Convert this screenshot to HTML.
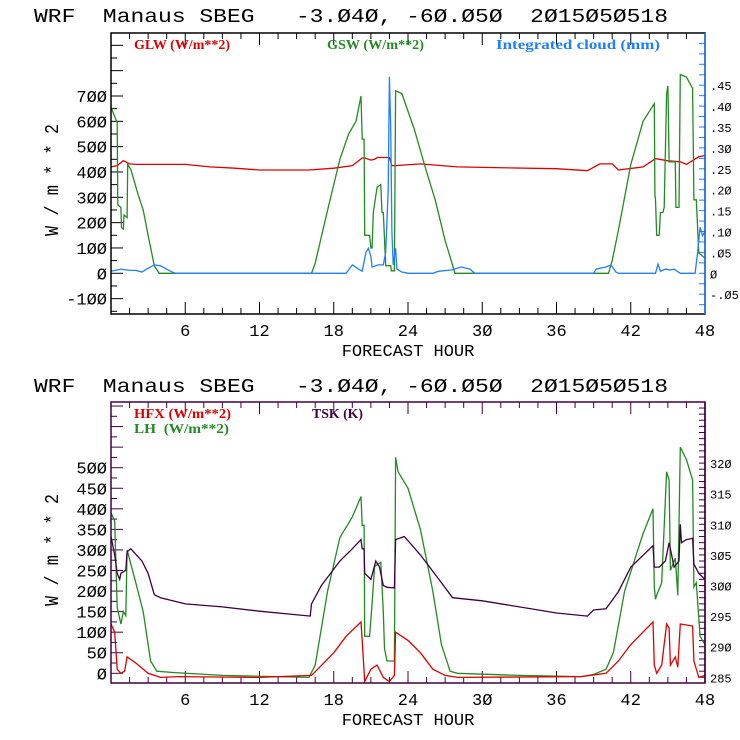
<!DOCTYPE html>
<html><head><meta charset="utf-8"><style>
html,body{margin:0;padding:0;background:#fff;width:740px;height:740px;overflow:hidden}
svg{display:block}
text{font-family:"Liberation Mono",monospace;white-space:pre}
.lg{font-family:"Liberation Serif",serif;font-size:14px;font-weight:bold}
</style></head><body>
<svg id="chart" width="740" height="740" viewBox="0 0 740 740" xml:space="preserve"></svg>
<script>
// ---- data: panel 1 ----
const hourTicks = [6,12,18,24,30,36,42,48];
const topLeftTicks = [-100,0,100,200,300,400,500,600,700];
const topRightTicks = [-0.05,0,0.05,0.10,0.15,0.20,0.25,0.30,0.35,0.40,0.45];
const topRightLabels = ['-.05','0','.05','.10','.15','.20','.25','.30','.35','.40','.45'];
const glwHours = [0,0.5,1,1.5,2,6,8,10,12,16,18,19.5,20.3,20.5,21,21.3,21.5,22.5,22.7,23,25,28,30,36,38.5,39.5,40.5,41,43,44,45,46,46.5,47.5,48];
const glwValues = [420,425,445,432,430,430,420,415,408,408,415,425,455,455,447,450,457,457,425,425,432,420,418,413,405,432,432,408,420,453,444,440,430,460,465];
const gswHours = [0,0.5,0.55,0.8,0.85,1.0,1.05,1.3,1.35,1.6,2.2,2.6,3.0,3.5,3.9,16.2,16.5,17.5,18.5,19.2,19.8,20.2,20.3,20.45,20.5,20.9,21.0,21.1,21.2,21.5,21.8,21.9,22.0,22.2,22.6,22.65,22.9,23.0,23.5,24.5,25.5,26.2,27.0,27.8,40.2,40.5,41,42,43,43.9,43.95,44.0,44.1,44.3,44.4,44.6,44.7,44.9,45.0,45.1,45.6,45.65,45.9,46.0,46.5,47.0,47.1,47.3,47.5,48];
const gswValues = [655,595,270,260,180,175,230,220,430,410,310,250,150,30,0,0,40,250,450,550,600,700,530,530,150,150,100,100,240,340,350,240,240,30,30,10,10,720,710,570,400,290,130,0,0,50,170,430,600,670,310,290,150,150,240,240,260,710,740,440,440,260,260,785,775,730,290,290,80,60];
const cldHours = [0,0.8,1.5,2.0,2.5,3.0,3.5,4.0,4.8,5.2,19.0,19.5,20.0,20.3,20.6,20.8,21.0,21.1,21.6,22.0,22.2,22.4,22.5,22.6,22.7,22.8,23.0,23.1,23.5,24,26,26.5,27.5,28.3,29.0,29.4,39.0,39.2,40.0,40.4,40.8,41,44.0,44.2,44.4,44.8,45.2,45.5,46.0,47.2,47.4,47.6,47.8,48];
const cldValues = [0.005,0.01,0.007,0.007,0.003,0.012,0.02,0.018,0.005,0,0,0.02,0.01,0.005,0.05,0.06,0.04,0.015,0.02,0.02,0.05,0.2,0.47,0.35,0.1,0.02,0.06,0.01,0.003,0,0,0.005,0.008,0.015,0.01,0,0,0.01,0.015,0.02,0.003,0,0,0.022,0.005,0.01,0.008,0.01,0,0,0.05,0.11,0.09,0.1];
// ---- data: panel 2 ----
const botLeftTicks = [0,50,100,150,200,250,300,350,400,450,500];
const botRightTicks = [285,290,295,300,305,310,315,320];
const lhHours = [0,0.3,0.5,0.8,1.0,1.2,1.3,2.0,2.6,3.2,3.7,5,9,16,16.5,17.5,18.5,19.5,20.2,20.3,20.45,20.5,20.9,21.1,21.3,21.8,22.0,22.1,22.3,22.9,23.0,23.2,24,25,26,26.7,27.4,28,33,38,39,40,40.6,41.5,43.0,43.8,43.9,44.0,44.1,44.5,44.9,45.1,45.2,45.6,45.8,46.0,46.5,47.0,47.1,47.3,47.6,48];
const lhValues = [390,370,160,120,150,140,300,220,150,30,5,2,-5,-10,20,200,330,380,430,360,360,90,90,170,260,270,150,60,30,30,525,490,450,350,200,70,5,0,-5,-8,-3,10,50,200,340,400,210,180,190,220,490,470,250,280,190,550,520,470,210,220,90,70];
const hfxHours = [0,0.3,0.5,0.8,1.1,1.3,2.0,3.0,4.0,5.5,12,16.2,16.7,18,19,20.2,20.3,20.5,21.0,21.5,22.0,22.5,22.9,23.0,24,25,26,27,28,38,40,41,42,43.8,43.9,44.1,44.5,44.9,45.1,45.2,45.6,45.8,46.0,47.0,47.1,47.5,48];
const hfxValues = [120,100,10,0,5,40,25,0,-10,-8,-10,-5,10,50,90,125,80,-20,10,20,-10,-20,-5,100,80,50,10,-5,-10,-8,0,30,70,125,20,0,20,120,110,20,40,15,120,115,30,-10,-5];
const tskHours = [0,0.3,0.5,0.7,0.8,1.2,1.3,1.6,2.5,3.0,3.5,4,6,9,12,16.1,16.2,17,18.5,19.5,20.2,20.3,20.45,20.5,21,21.4,21.7,22,22.3,22.9,23,23.7,25,26.5,27.6,30,36,38.5,39,40,41,42,43.8,43.9,44.3,44.8,45.1,45.3,45.5,45.9,46.0,46.1,46.5,47,47.1,47.5,48];
const tskValues = [308,305,302,301,302,302.5,305.5,306,304,302,298.5,298,297,296.5,295.8,295,297,300,304,306,307.5,306,306,302,301,304,303,300,299.7,299.6,307.5,308,305,301,298,297.5,295.5,295,296,296.2,299,303,306.5,303,303,304,307,305,303,304,310,307,307.5,307.7,303.5,302,301];

// ---- axis helpers ----
const NS='http://www.w3.org/2000/svg';
const svg=document.getElementById('chart');
const X0=111, X1=705;
function xh(h){return X0+(X1-X0)*h/48;}
function mk(tag,attrs,parent){const e=document.createElementNS(NS,tag);for(const k in attrs)e.setAttribute(k,attrs[k]);(parent||svg).appendChild(e);return e;}
function path(hs,vs,yf,color,name){
  let d='';
  for(let i=0;i<hs.length;i++){d+=(i?'L':'M')+xh(hs[i]).toFixed(1)+' '+yf(vs[i]).toFixed(1);}
  const p=mk('path',{d:d,fill:'none',stroke:color,'stroke-width':1.3});
  
  
}
function txt(x,y,s,attrs,name){
  const t=mk('text',Object.assign({x:x,y:y},attrs));t.textContent=s;
  
  
  return t;
}
function panel(o){
  const g=mk('g',{});
  
  
  txt(34,22+o.off,'WRF  Manaus SBEG   -3.Ø4Ø, -6Ø.Ø5Ø  2Ø15Ø5Ø518',{'font-size':19,textLength:634,lengthAdjust:'spacingAndGlyphs',fill:'#000'},'chart-title');
  for(let h=1.5;h<48;h+=1.5){const major=(h%6===0);
    mk('line',{x1:xh(h),x2:xh(h),y1:o.bot,y2:o.bot-(major?12:6),stroke:o.frame,'stroke-width':1});
    mk('line',{x1:xh(h),x2:xh(h),y1:o.top,y2:o.top+(major?12:6),stroke:o.frame,'stroke-width':1});}
  hourTicks.forEach(h=>txt(xh(h),o.bot+22,String(h).replace(/0/g,'Ø'),{'font-size':17,'text-anchor':'middle'},'x-tick-label'));
  txt(408,o.bot+42,'FORECAST HOUR',{'font-size':17,'text-anchor':'middle'},'x-axis-title');
  for(let v=o.lmin;v<=o.lmax;v+=o.lminor){const y=o.yl(v);if(y<o.top||y>o.bot)continue;
    const major=Math.abs(v/o.lmajor-Math.round(v/o.lmajor))<1e-6;
    mk('line',{x1:X0,x2:X0+(major?12:6),y1:y,y2:y,stroke:o.frame,'stroke-width':1});}
  o.lticks.forEach(v=>txt(X0-4,o.yl(v)+6,String(v).replace(/0/g,'Ø'),{'font-size':17,'text-anchor':'end'},'y-tick-label'));
  txt(0,0,'W / m * * 2',{'font-size':19,'text-anchor':'middle',textLength:112,lengthAdjust:'spacingAndGlyphs',transform:'translate('+o.ylx+','+o.ylc+') rotate(-90)'},'y-axis-title');
  for(let v=o.rmin;v<=o.rmax+1e-9;v+=o.rminor){const y=o.yr(v);if(y<o.top||y>o.bot)continue;
    mk('line',{x1:X1,x2:X1-6,y1:y,y2:y,stroke:o.rcolor,'stroke-width':1});}
  o.rticks.forEach((v,i)=>txt(X1+5,o.yr(v)+5,o.rlabels[i].replace(/0/g,'Ø'),{'font-size':12},'right-tick-label'));
  o.series();
  mk('rect',{x:X0,y:o.top,width:X1-X0,height:o.bot-o.top,fill:'none',stroke:o.frame,'stroke-width':1.5});
  mk('line',{x1:X1,x2:X1,y1:o.top,y2:o.bot,stroke:o.rcolor,'stroke-width':1.5});
  o.legend();
}
const y1l=v=>273.3-v*0.2533, y1r=v=>273.3-v*418;
panel({name:'radiation-panel',off:0,top:33,bot:314,frame:'#000',rcolor:'#1e7fff',
  yl:y1l,yr:y1r,lmin:-150,lmax:950,lminor:50,lmajor:100,lticks:topLeftTicks,ylx:58,ylc:180,
  rmin:-0.1,rmax:0.7,rminor:0.025,rticks:topRightTicks,rlabels:topRightLabels,
  series:()=>{path(glwHours,glwValues,y1l,'#dd0000','glw-line');path(gswHours,gswValues,y1l,'#228b22','gsw-line');path(cldHours,cldValues,y1r,'#1e7fff','cloud-line');},
  legend:()=>{txt(134,49,'GLW (W/m**2)',{class:'lg',fill:'#dd0000',textLength:96,lengthAdjust:'spacingAndGlyphs'},'legend-glw');
    txt(327,49,'GSW (W/m**2)',{class:'lg',fill:'#228b22',textLength:97,lengthAdjust:'spacingAndGlyphs'},'legend-gsw');
    txt(496,49,'Integrated cloud (mm)',{class:'lg',fill:'#1e7fff',textLength:164,lengthAdjust:'spacingAndGlyphs'},'legend-cloud');}
});
const y2l=v=>673.3-v*0.4112, y2r=v=>677.3-(v-285)*6.12;
panel({name:'flux-panel',off:370,top:402,bot:683,frame:'#400040',rcolor:'#400040',
  yl:y2l,yr:y2r,lmin:-25,lmax:700,lminor:25,lmajor:50,lticks:botLeftTicks,ylx:58,ylc:550,
  rmin:284,rmax:330,rminor:1,rticks:botRightTicks,rlabels:botRightTicks.map(String),
  series:()=>{path(lhHours,lhValues,y2l,'#228b22','lh-line');path(hfxHours,hfxValues,y2l,'#dd0000','hfx-line');path(tskHours,tskValues,y2r,'#400040','tsk-line');},
  legend:()=>{txt(134,418,'HFX (W/m**2)',{class:'lg',fill:'#dd0000',textLength:97,lengthAdjust:'spacingAndGlyphs'},'legend-hfx');
    txt(134,433,'LH  (W/m**2)',{class:'lg',fill:'#228b22',textLength:95,lengthAdjust:'spacingAndGlyphs'},'legend-lh');
    txt(312,418,'TSK (K)',{class:'lg',fill:'#400040',textLength:51,lengthAdjust:'spacingAndGlyphs'},'legend-tsk');}
});
</script>
</body></html>
